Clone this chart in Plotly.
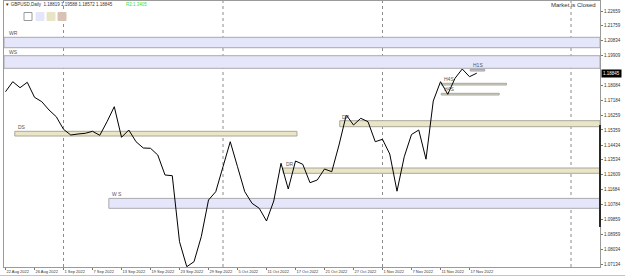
import plotly.graph_objects as go

# ---------------- data ----------------
closes = [1.17707, 1.18321, 1.17953, 1.18284, 1.17364, 1.17094, 1.16584, 1.16173,
          1.15400, 1.15050, 1.15112, 1.15155, 1.15277, 1.15032, 1.15866, 1.16787,
          1.14909, 1.15357, 1.14639, 1.14253, 1.14234, 1.13823, 1.12596, 1.12553,
          1.08503, 1.06969, 1.07276, 1.08810, 1.11062, 1.11571, 1.13105, 1.14639,
          1.13105, 1.11571, 1.10859, 1.10553, 1.09773, 1.11001, 1.13314, 1.11737,
          1.13455, 1.13253, 1.12123, 1.12289, 1.12964, 1.12798, 1.14437, 1.16278,
          1.15664, 1.16075, 1.15866, 1.14639, 1.14787, 1.13885, 1.11602, 1.13719,
          1.15081, 1.15357, 1.13565, 1.17137, 1.18321, 1.17548, 1.18529, 1.19100,
          1.18628, 1.18845]

date_ticks = [0, 4, 8, 12, 16, 20, 24, 28, 32, 36, 40, 44, 48, 52, 56, 60, 64]
date_labels = ["22 Aug 2022", "26 Aug 2022", "1 Sep 2022", "7 Sep 2022", "13 Sep 2022",
               "19 Sep 2022", "23 Sep 2022", "29 Sep 2022", "5 Oct 2022", "11 Oct 2022",
               "17 Oct 2022", "21 Oct 2022", "27 Oct 2022", "1 Nov 2022", "7 Nov 2022",
               "11 Nov 2022", "17 Nov 2022"]

price_ticks = [1.22659, 1.21759, 1.20834, 1.19909, 1.18084, 1.17184, 1.16259, 1.15359,
               1.14434, 1.13534, 1.12609, 1.11684, 1.10784, 1.09859, 1.08959, 1.08034,
               1.07134]

separators = [8, 30, 52, 78]

# zones: name, low, high, start bar, end bar (None = to right edge)
zone_names = ["WR", "WS", "DS", "DR", "DR", "W S", "H4S", "H4S", "H1S"]
zone_low = [1.20407, 1.19143, 1.14989, 1.15560, 1.12700, 1.10553, 1.18118, 1.17505, 1.18977]
zone_high = [1.21045, 1.19916, 1.15277, 1.15928, 1.13025, 1.11161, 1.18223, 1.17609, 1.19082]
zone_start = [None, None, 1.28, 46.1, 38.3, 14.25, 60.1, 60.1, 64.1]
zone_end = [None, None, 40.2, None, None, None, 69.1, 68.1, 66.1]
zone_kind = ["W", "W", "D", "D", "D", "W", "H", "H", "H1"]

last_ohlc = "1.18819 1.19588 1.18572 1.18845"
last_close = 1.18845

# ---------------- layout helpers ----------------
W, H = 625, 277
ML, MR, MT, MB = 4, 25, 1, 10
XR = [-0.21, 82.0]
YR = [1.06951, 1.23273]


def pxx(px):
    return (px - ML) / (W - ML - MR)


def pxy(py):
    return (H - MB - py) / (H - MT - MB)


FONT = "Liberation Sans"
fills = {"W": "#E6E6FA", "D": "#EAE5C6", "H": "#D6D5C8", "H1": "#CFCFCF"}
borders = {"W": "#A8A8B0", "D": "#A8A89A", "H": "#A8A8A0", "H1": "#A0A0A0"}

fig = go.Figure()
fig.add_trace(go.Scatter(x=list(range(len(closes))), y=closes, mode="lines",
                         line=dict(color="black", width=1), hoverinfo="skip"))

shapes = []
annotations = []

# separators
for s in separators:
    shapes.append(dict(type="line", xref="x", yref="paper", x0=s, x1=s, y0=0, y1=1,
                       line=dict(color="#8c8c8c", width=1, dash="dot"), layer="below"))

# zones
for name, lo, hi, x0, x1, kind in zip(zone_names, zone_low, zone_high, zone_start, zone_end, zone_kind):
    sx0 = XR[0] if x0 is None else x0
    sx1 = XR[1] if x1 is None else x1
    shapes.append(dict(type="rect", xref="x", yref="y", x0=sx0, x1=sx1, y0=lo, y1=hi,
                       fillcolor=fills[kind], line=dict(color=borders[kind], width=1),
                       layer="below"))
    lx = 0.2 if x0 is None else x0 + 0.1
    annotations.append(dict(x=lx, y=hi, xref="x", yref="y", text=name, showarrow=False,
                            xanchor="left", yanchor="bottom", yshift=-1,
                            font=dict(family=FONT, size=5, color="#555555")))

# thick scale marker on right axis
shapes.append(dict(type="line", xref="paper", yref="y", x0=1, x1=1, y0=1.09405, y1=1.15664,
                   line=dict(color="#2a2a2a", width=2)))
# bottom scrollbar line
shapes.append(dict(type="line", xref="paper", yref="paper", x0=pxx(0), x1=pxx(625),
                   y0=pxy(275.5), y1=pxy(275.5), line=dict(color="#c4c4c4", width=1)))

# colour boxes top-left
box_cols = ["#FFFFFF", "#E6E6FA", "#E8E4C6", "#D9C2B4"]
box_x = [24, 36, 47, 58]
for c, bx in zip(box_cols, box_x):
    shapes.append(dict(type="rect", xref="paper", yref="paper", x0=pxx(bx), x1=pxx(bx + 8),
                       y0=pxy(20.5), y1=pxy(12.5), fillcolor=c,
                       line=dict(color="#9a9a9a" if c == "#FFFFFF" else c, width=1)))

# header texts
annotations.append(dict(x=pxx(3), y=pxy(4.5), xref="paper", yref="paper",
                        text="▼ GBPUSD,Daily  " + last_ohlc, showarrow=False,
                        xanchor="left", yanchor="middle",
                        font=dict(family=FONT, size=4.5, color="#333333")))
annotations.append(dict(x=pxx(124), y=pxy(4.5), xref="paper", yref="paper",
                        text="R2:1.3405", showarrow=False, xanchor="left", yanchor="middle",
                        font=dict(family=FONT, size=4.5, color="#3ddc3d")))
annotations.append(dict(x=pxx(598), y=pxy(5.5), xref="paper", yref="paper",
                        text="Market is Closed", showarrow=False, xanchor="right", yanchor="middle",
                        font=dict(family=FONT, size=6, color="#333333")))
# current price box
annotations.append(dict(x=1, y=last_close, xref="paper", yref="y", text=f"{last_close:.5f}",
                        showarrow=False, xanchor="left", yanchor="middle", xshift=1,
                        bgcolor="black", borderpad=1,
                        font=dict(family=FONT, size=4.5, color="white")))

fig.update_layout(
    width=W, height=H, margin=dict(l=ML, r=MR, t=MT, b=MB, autoexpand=False),
    paper_bgcolor="white", plot_bgcolor="white", showlegend=False,
    shapes=shapes, annotations=annotations,
    xaxis=dict(range=XR, tickvals=date_ticks, ticktext=date_labels, ticks="outside",
               ticklen=2, tickcolor="#777777", ticklabelposition="outside right",
               tickangle=0, automargin=False,
               tickfont=dict(family=FONT, size=4, color="#333333"),
               showline=True, linecolor="#9a9a9a", linewidth=1, mirror=True,
               showgrid=False, zeroline=False, fixedrange=True),
    yaxis=dict(range=YR, side="right", tickvals=price_ticks, automargin=False,
               ticktext=[f"{v:.5f}" for v in price_ticks], ticks="outside", ticklen=2,
               tickcolor="#777777", tickfont=dict(family=FONT, size=4.5, color="#333333"),
               showline=True, linecolor="#9a9a9a", linewidth=1, mirror=True,
               showgrid=False, zeroline=False, fixedrange=True),
)

fig.write_html("out.html")
